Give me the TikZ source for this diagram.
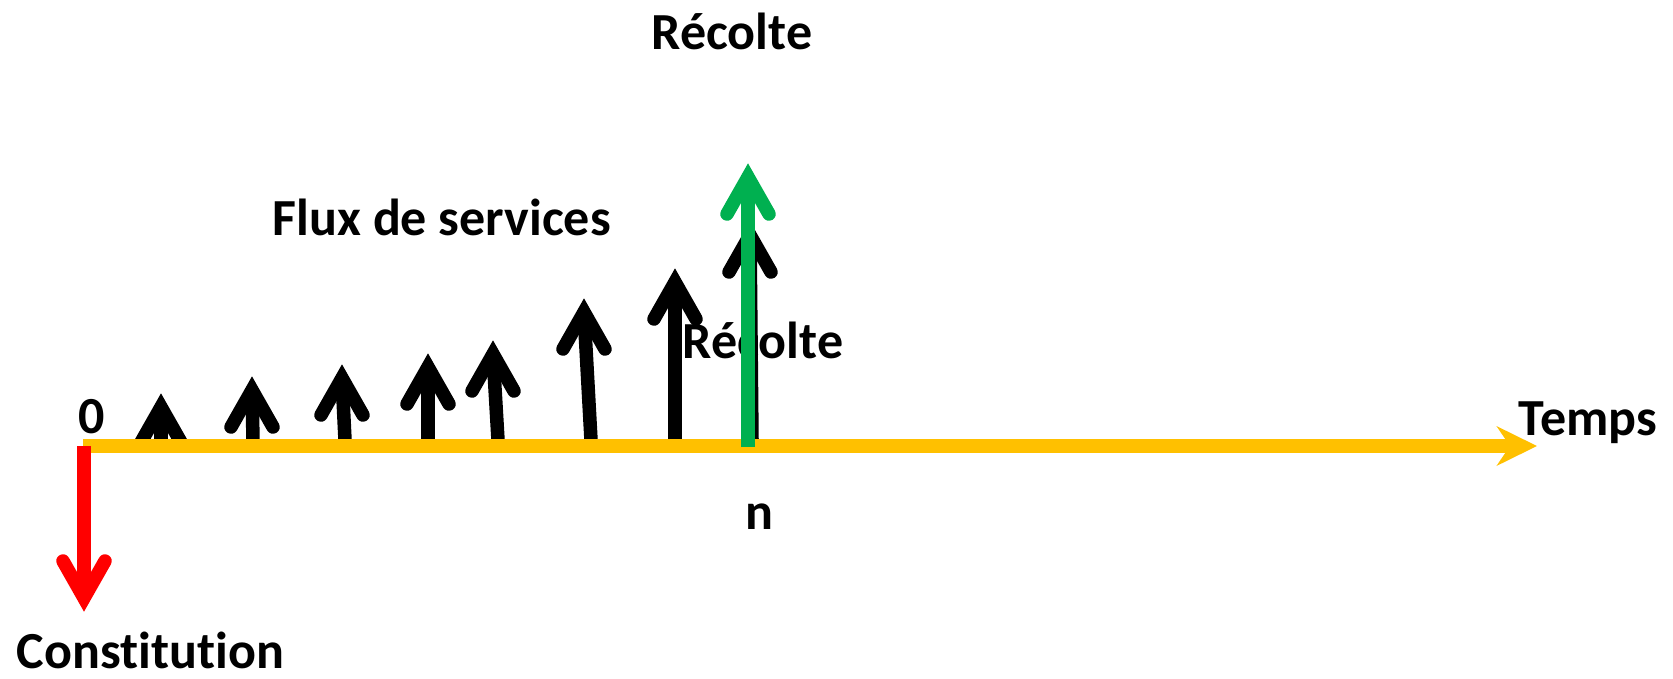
\documentclass[tikz,border=0pt]{standalone}
\usepackage{fontspec}
\setmainfont[Ligatures=NoCommon]{Carlito}
\usetikzlibrary{arrows.meta}
\definecolor{jaune}{RGB}{255,192,0}
\definecolor{vert}{RGB}{0,176,80}
\definecolor{rouge}{RGB}{255,0,0}

\begin{document}
\begin{tikzpicture}[x=0.01cm,y=-0.01cm,
        txt/.style={inner sep=0pt,anchor=base west,font=\fontsize{14.8}{18}\selectfont\bfseries},
        tige/.style={line width=0.135cm},
        tete/.style={line width=0.135cm,line cap=round,line join=miter},
        axe/.style={jaune,line width=0.135cm,-{Stealth[length=0.40cm,width=0.39cm,inset=0.13cm]}}]
        \useasboundingbox (0,0) rectangle (1673,678);
        % flux de services
        \foreach \bx/\tx/\ty [count=\i] in {161/161/393,253/252/376,345/342/364,428/428/353,498/493/340,591/584/298,675/675/268,752/750/221}{
            \coordinate (b\i) at (\bx,440);
            \coordinate (t\i) at (\tx,{\ty+14});
            \draw[tige](b\i)--(t\i);
            \draw[tete](t\i)++(-21,37)--(t\i)--++(21,37);
        }
        \node[txt](recolteHaut) at (651,49){Récolte};
        \node[txt](flux) at (272,235){Flux de services};
        \node[txt](recolteBas) at (682,358){Récolte};
        \node[txt](zero) at (78,433){0};
        \node[txt](n) at (745,529){n};
        \node[txt](temps) at (1518,435){Temps};
        \node[txt](constitution) at (16,668){Constitution};
        % axe du temps
        \coordinate (o) at (83,446);
        \coordinate (fin) at (1537,446);
        \draw[axe](o)--(fin);
        % recolte
        \coordinate (g0) at (748,447);
        \coordinate (g1) at (748,177);
        \draw[tige,vert](g0)--(g1);
        \draw[tete,vert](g1)++(-21,37)--(g1)--++(21,37);
        % constitution
        \coordinate (r0) at (84,446);
        \coordinate (r1) at (84,598);
        \draw[tige,rouge](r0)--(r1);
        \draw[tete,rouge](r1)++(-21,-37)--(r1)--++(21,-37);
\end{tikzpicture}
\end{document}
